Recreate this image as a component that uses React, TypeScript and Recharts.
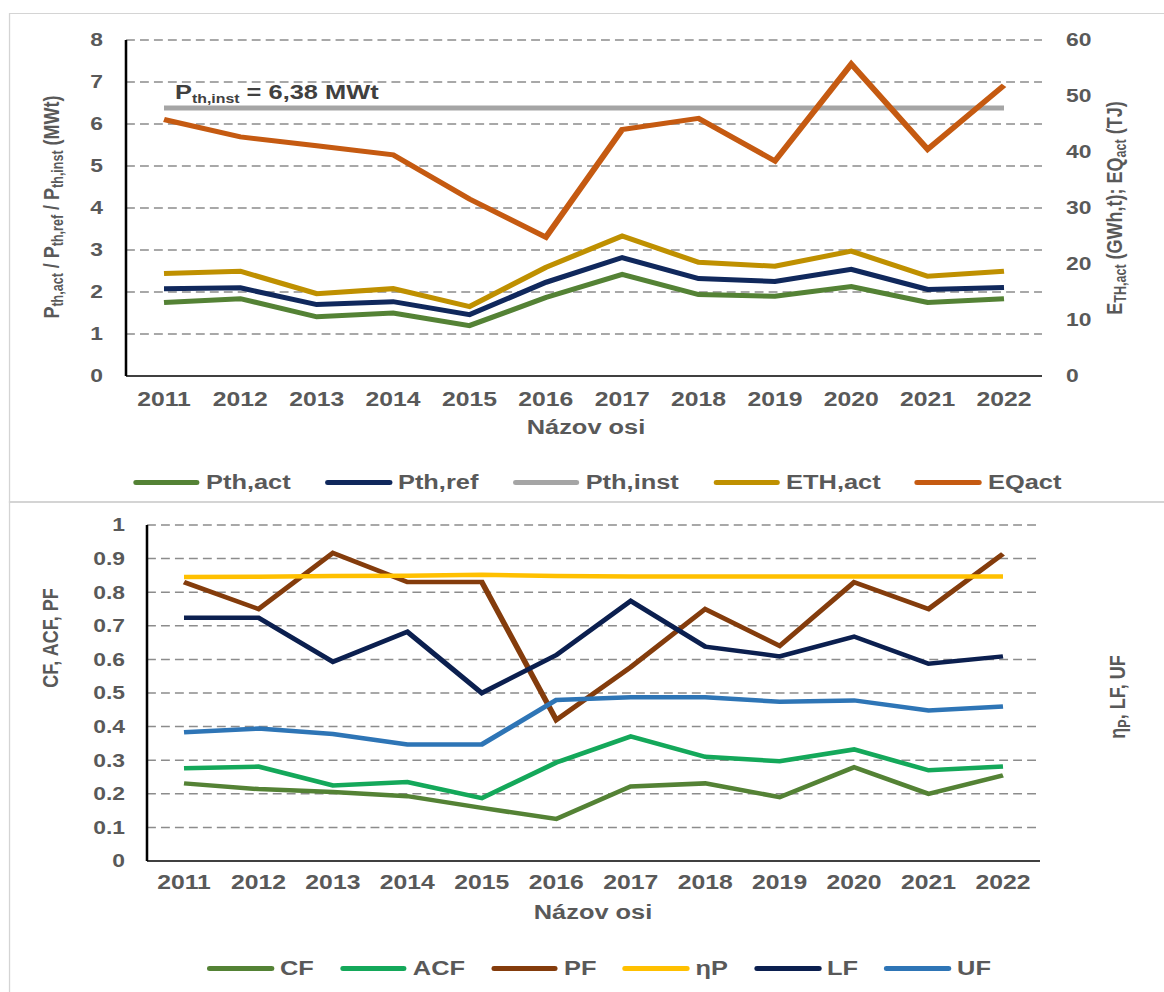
import { LineChart, Line, XAxis, YAxis, CartesianGrid } from "recharts";

// categories
const years = ["2011", "2012", "2013", "2014", "2015", "2016", "2017", "2018", "2019", "2020", "2021", "2022"];

// top chart (MWt on the left, GWh / TJ on the right)
const pthAct = [1.75, 1.84, 1.41, 1.5, 1.2, 1.87, 2.42, 1.94, 1.9, 2.13, 1.75, 1.84];
const pthRef = [2.08, 2.1, 1.7, 1.77, 1.46, 2.23, 2.82, 2.32, 2.25, 2.54, 2.06, 2.11];
const pthInst = [6.38, 6.38, 6.38, 6.38, 6.38, 6.38, 6.38, 6.38, 6.38, 6.38, 6.38, 6.38];
const ethAct = [18.3, 18.7, 14.7, 15.6, 12.4, 19.4, 25.0, 20.3, 19.6, 22.3, 17.8, 18.7];
const eqAct = [45.8, 42.7, 41.1, 39.5, 31.6, 24.8, 44.0, 46.0, 38.4, 55.7, 40.5, 51.9];

// bottom chart (factors)
const cf = [0.231, 0.214, 0.205, 0.193, 0.158, 0.125, 0.222, 0.231, 0.19, 0.279, 0.2, 0.255];
const acf = [0.276, 0.281, 0.225, 0.235, 0.187, 0.293, 0.371, 0.31, 0.297, 0.332, 0.27, 0.281];
const pf = [0.83, 0.75, 0.917, 0.83, 0.83, 0.42, 0.577, 0.75, 0.64, 0.83, 0.75, 0.914];
const etaP = [0.845, 0.846, 0.848, 0.849, 0.852, 0.848, 0.847, 0.847, 0.847, 0.847, 0.847, 0.847];
const lf = [0.724, 0.724, 0.593, 0.682, 0.5, 0.613, 0.774, 0.638, 0.609, 0.668, 0.587, 0.609];
const uf = [0.383, 0.394, 0.378, 0.347, 0.347, 0.479, 0.487, 0.487, 0.474, 0.478, 0.448, 0.46];

// tick labels
const leftTicksTop = [0, 1, 2, 3, 4, 5, 6, 7, 8];
const rightTicksTop = [0, 10, 20, 30, 40, 50, 60];
const ticksBottom = [0, 0.1, 0.2, 0.3, 0.4, 0.5, 0.6, 0.7, 0.8, 0.9, 1];

const topData = years.map((year, i) => ({
  year,
  pthAct: pthAct[i],
  pthRef: pthRef[i],
  pthInst: pthInst[i],
  ethAct: ethAct[i],
  eqAct: eqAct[i],
}));

const bottomData = years.map((year, i) => ({
  year,
  cf: cf[i],
  acf: acf[i],
  pf: pf[i],
  etaP: etaP[i],
  lf: lf[i],
  uf: uf[i],
}));

const topSeries = [
  { key: "pthAct", name: "Pth,act", color: "#548235", axis: "l" },
  { key: "pthRef", name: "Pth,ref", color: "#10285c", axis: "l" },
  { key: "pthInst", name: "Pth,inst", color: "#a5a5a5", axis: "l" },
  { key: "ethAct", name: "ETH,act", color: "#bf9000", axis: "r" },
  { key: "eqAct", name: "EQact", color: "#c55a11", axis: "r" },
];

const bottomSeries = [
  { key: "cf", name: "CF", color: "#548235" },
  { key: "acf", name: "ACF", color: "#14a85a" },
  { key: "pf", name: "PF", color: "#843c0c" },
  { key: "etaP", name: "ηP", color: "#ffc000" },
  { key: "lf", name: "LF", color: "#0b1f4f" },
  { key: "uf", name: "UF", color: "#2e75b6" },
];

// the source picture is stretched horizontally, so everything is drawn narrower and scaled
const K = 1.27;
const px = (v: number) => v / K;
const W = px(1164);

const FONT = '"Liberation Sans", Arial, sans-serif';
const GREY = "#595959";
const tickStyle = { fill: GREY, fontSize: 18, fontWeight: 700, fontFamily: FONT };
const yearStyle = { fill: GREY, fontSize: 19.5, fontWeight: 700, fontFamily: FONT };
const gridStroke = "#8c8c8c";

const Sub = ({ children }: { children: string }) => (
  <sub style={{ fontSize: 12.5, verticalAlign: "-0.3em" }}>{children}</sub>
);

function Rotated({ x, y, children }: { x: number; y: number; children: any }) {
  return (
    <div
      style={{
        position: "absolute",
        left: px(x),
        top: y,
        transform: "translate(-50%, -50%) rotate(-90deg)",
        whiteSpace: "nowrap",
        fontFamily: FONT,
        fontWeight: 700,
        fontSize: 18,
        color: GREY,
        lineHeight: "20px",
      }}
    >
      {children}
    </div>
  );
}

function AxisName({ x, y }: { x: number; y: number }) {
  return (
    <div
      style={{
        position: "absolute",
        left: px(x),
        top: y,
        transform: "translate(-50%, -50%)",
        whiteSpace: "nowrap",
        fontFamily: FONT,
        fontWeight: 700,
        fontSize: 20,
        color: GREY,
      }}
    >
      Názov osi
    </div>
  );
}

function LegendRow({ items, x, y, gap }: { items: { name: string; color: string }[]; x: number; y: number; gap: number }) {
  return (
    <div
      style={{
        position: "absolute",
        left: px(x),
        top: y - 12,
        height: 24,
        display: "flex",
        alignItems: "center",
        gap,
        whiteSpace: "nowrap",
      }}
    >
      {items.map((s) => (
        <div key={s.name} style={{ display: "flex", alignItems: "center" }}>
          <span style={{ display: "inline-block", width: px(67), height: 5, background: s.color, borderRadius: 2 }} />
          <span style={{ marginLeft: px(6), fontFamily: FONT, fontWeight: 700, fontSize: 20, color: GREY }}>{s.name}</span>
        </div>
      ))}
    </div>
  );
}

export default function App() {
  return (
    <div
      style={{
        position: "absolute",
        left: 0,
        top: 0,
        width: W,
        height: 992,
        background: "#fff",
        transform: `scaleX(${K})`,
        transformOrigin: "0 0",
        overflow: "hidden",
      }}
    >
      {/* panel frames */}
      <div style={{ position: "absolute", left: px(9), top: 13, width: W, height: 488, border: "1px solid #d4d4d4" }} />
      <div style={{ position: "absolute", left: px(9), top: 501, width: W, height: 520, border: "1px solid #d4d4d4" }} />

      {/* top chart */}
      <div style={{ position: "absolute", left: 0, top: 0 }}>
        <LineChart
          width={W}
          height={500}
          data={topData}
          margin={{ top: 40, bottom: 94, left: px(126) - 60, right: W - px(1042) - 60 }}
        >
          <CartesianGrid yAxisId="l" vertical={false} stroke={gridStroke} strokeDasharray="7 4" strokeWidth={1.5} />
          <XAxis
            dataKey="year"
            interval={0}
            padding={{ left: px(38), right: px(38) }}
            tickLine={false}
            tickSize={0}
            tickMargin={16}
            height={30}
            axisLine={{ stroke: "#404040", strokeWidth: 2 }}
            tick={yearStyle}
          />
          <YAxis
            yAxisId="l"
            width={60}
            domain={[0, 8]}
            ticks={leftTicksTop}
            tickLine={false}
            tickSize={0}
            tickMargin={px(23)}
            axisLine={{ stroke: "#000", strokeWidth: 2 }}
            tick={tickStyle}
          />
          <YAxis
            yAxisId="r"
            orientation="right"
            width={60}
            domain={[0, 60]}
            ticks={rightTicksTop}
            tickLine={false}
            tickSize={0}
            tickMargin={px(24)}
            axisLine={false}
            tick={tickStyle}
          />
          {topSeries.map((s) => (
            <Line
              key={s.key}
              yAxisId={s.axis}
              type="linear"
              dataKey={s.key}
              name={s.name}
              stroke={s.color}
              strokeWidth={5}
              dot={false}
              isAnimationActive={false}
            />
          ))}
        </LineChart>
      </div>

      <div
        style={{
          position: "absolute",
          left: px(175),
          top: 82,
          fontFamily: FONT,
          fontWeight: 700,
          fontSize: 20,
          lineHeight: "20px",
          color: "#404040",
          whiteSpace: "nowrap",
        }}
      >
        P<Sub>th,inst</Sub> = 6,38 MWt
      </div>

      <Rotated x={55} y={207}>
        P<Sub>th,act</Sub> / P<Sub>th,ref</Sub> / P<Sub>th,inst</Sub> (MWt)
      </Rotated>
      <Rotated x={1118} y={208}>
        E<Sub>TH,act</Sub> (GWh,t); EQ<Sub>act</Sub> (TJ)
      </Rotated>
      <AxisName x={586} y={427} />
      <LegendRow items={topSeries} x={133} y={482} gap={27} />

      {/* bottom chart */}
      <div style={{ position: "absolute", left: 0, top: 500 }}>
        <LineChart
          width={W}
          height={492}
          data={bottomData}
          margin={{ top: 25, bottom: 101, left: px(147) - 60, right: W - px(1040) - 60 }}
        >
          <CartesianGrid yAxisId="l" vertical={false} stroke={gridStroke} strokeDasharray="7 4" strokeWidth={1.5} />
          <XAxis
            dataKey="year"
            interval={0}
            padding={{ left: px(37), right: px(37) }}
            tickLine={false}
            tickSize={0}
            tickMargin={14}
            height={30}
            axisLine={{ stroke: "#404040", strokeWidth: 2 }}
            tick={yearStyle}
          />
          <YAxis
            yAxisId="l"
            width={60}
            domain={[0, 1]}
            ticks={ticksBottom}
            tickLine={false}
            tickSize={0}
            tickMargin={px(22)}
            axisLine={{ stroke: "#000", strokeWidth: 2 }}
            tick={tickStyle}
          />
          <YAxis
            yAxisId="r"
            orientation="right"
            width={60}
            domain={[0, 1]}
            ticks={ticksBottom}
            tickLine={false}
            tickSize={0}
            tickMargin={px(21)}
            axisLine={false}
            tick={tickStyle}
          />
          {bottomSeries.map((s) => (
            <Line
              key={s.key}
              yAxisId="l"
              type="linear"
              dataKey={s.key}
              name={s.name}
              stroke={s.color}
              strokeWidth={4.5}
              dot={false}
              isAnimationActive={false}
            />
          ))}
        </LineChart>
      </div>

      <Rotated x={51} y={638}>
        CF, ACF, PF
      </Rotated>
      <Rotated x={1122} y={697}>
        η<Sub>P</Sub>, LF, UF
      </Rotated>
      <AxisName x={593} y={912} />
      <LegendRow items={bottomSeries} x={207} y={968} gap={20.5} />
    </div>
  );
}
